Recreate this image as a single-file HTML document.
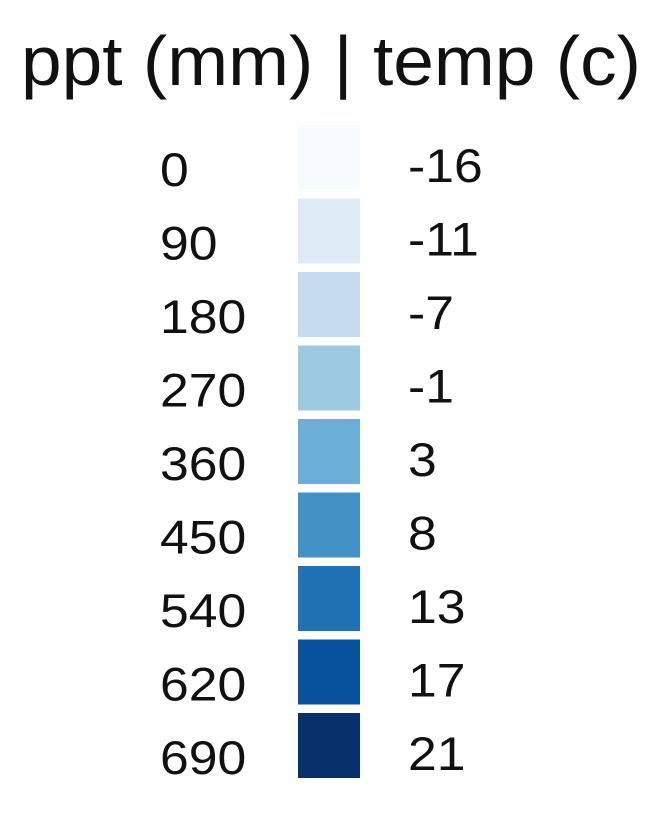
<!DOCTYPE html>
<html><head><meta charset="utf-8"><style>
html,body{margin:0;padding:0;background:#fff;}
svg{display:block;font-family:"Liberation Sans",sans-serif;}
</style></head><body>
<svg width="670" height="828">
<text x="21" y="85" font-size="70" textLength="620" lengthAdjust="spacingAndGlyphs" fill="#111">ppt (mm) | temp (c)</text>
<g id="g"></g>
</svg>
<script>
const pptLabels=["0","90","180","270","360","450","540","620","690"];
const tempLabels=["-16","-11","-7","-1","3","8","13","17","21"];
const colors=["#f7fbff","#deebf7","#c6dbef","#9ecae1","#6baed6","#4292c6","#2171b5","#08519c","#08306b"];
const g=document.getElementById('g');
const NS="http://www.w3.org/2000/svg";
const y0=125,pitch=73.5,h=65;
colors.forEach((c,i)=>{
 const y=y0+i*pitch;
 const r=document.createElementNS(NS,'rect');
 r.setAttribute('x',298);r.setAttribute('y',y);r.setAttribute('width',62);r.setAttribute('height',h);r.setAttribute('fill',c);
 
 
 g.appendChild(r);
 const t1=document.createElementNS(NS,'text');
 t1.setAttribute('font-size',47);t1.setAttribute('fill','#111');
 t1.setAttribute('transform','translate(160,'+(y+61)+') scale(1.1,1)');
 t1.textContent=pptLabels[i];
 
 
 g.appendChild(t1);
 const t2=document.createElementNS(NS,'text');
 t2.setAttribute('font-size',47);t2.setAttribute('fill','#111');
 t2.setAttribute('transform','translate(408,'+(y+57)+') scale(1.1,1)');
 t2.textContent=tempLabels[i];
 
 
 g.appendChild(t2);
});
</script>
</body></html>
